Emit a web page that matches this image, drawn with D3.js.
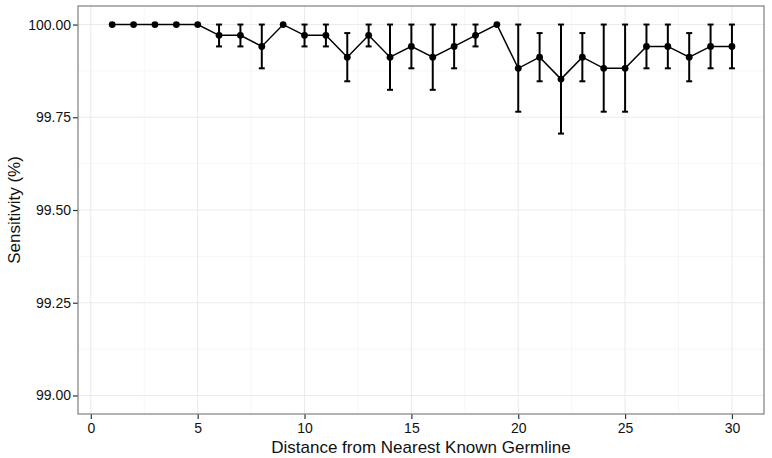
<!DOCTYPE html>
<html>
<head>
<meta charset="utf-8">
<script src="https://cdn.jsdelivr.net/npm/d3@7"></script>
<style>
  body { margin: 0; background: #fff; }
  text { font-family: "Liberation Sans", Arial, sans-serif; }
</style>
</head>
<body>
<div id="chart"></div>
<script>
// Data
var distance = [1, 2, 3, 4, 5, 6, 7, 8, 9, 10, 11, 12, 13, 14, 15,
    16, 17, 18, 19, 20, 21, 22, 23, 24, 25, 26, 27, 28, 29, 30];
var sensitivity = [100, 100, 100, 100, 100, 99.971, 99.971, 99.941, 100, 99.971, 99.971, 99.912, 99.971, 99.912, 99.941,
    99.912, 99.941, 99.971, 100, 99.882, 99.912, 99.853, 99.912, 99.882, 99.882, 99.941, 99.941, 99.912, 99.941, 99.941];
var lower = [100, 100, 100, 100, 100, 99.941, 99.941, 99.882, 100, 99.941, 99.941, 99.847, 99.941, 99.824, 99.882,
    99.824, 99.882, 99.941, 100, 99.765, 99.847, 99.706, 99.847, 99.765, 99.765, 99.882, 99.882, 99.847, 99.882, 99.882];
var upper = [100, 100, 100, 100, 100, 100, 100, 100, 100, 100, 100, 99.977, 100, 100, 100,
    100, 100, 100, 100, 100, 99.977, 100, 99.977, 100, 100, 100, 100, 99.977, 100, 100];
var xTicks = [0, 5, 10, 15, 20, 25, 30];
var yTicks = [99.00, 99.25, 99.50, 99.75, 100.00];

var W = 772, H = 458;
var panel = {left: 78, right: 764, top: 6, bottom: 414};

var svg = d3.select("#chart").append("svg")
    .attr("width", W)
    .attr("height", H);

// Scales (ggplot-style 5% expansion)
var xScale = d3.scaleLinear().domain([-0.6, 31.5]).range([panel.left, panel.right]);
var yScale = d3.scaleLinear().domain([98.95, 100.05]).range([panel.bottom, panel.top]);

var data = distance.map(function(d, i) {
    return {x: d, y: sensitivity[i], lo: lower[i], hi: upper[i]};
});

// Grid lines
var grid = svg.append("g").attr("class", "grid");
var xMinor = [2.5, 7.5, 12.5, 17.5, 22.5, 27.5];
var yMinor = [99.125, 99.375, 99.625, 99.875];

grid.selectAll(".xminor").data(xMinor).enter().append("line")
    .attr("x1", function(d) { return xScale(d); })
    .attr("x2", function(d) { return xScale(d); })
    .attr("y1", panel.top).attr("y2", panel.bottom)
    .attr("stroke", "#f4f4f4").attr("stroke-width", 0.8);
grid.selectAll(".yminor").data(yMinor).enter().append("line")
    .attr("y1", function(d) { return yScale(d); })
    .attr("y2", function(d) { return yScale(d); })
    .attr("x1", panel.left).attr("x2", panel.right)
    .attr("stroke", "#f4f4f4").attr("stroke-width", 0.8);
grid.selectAll(".xmajor").data(xTicks).enter().append("line")
    .attr("x1", function(d) { return xScale(d); })
    .attr("x2", function(d) { return xScale(d); })
    .attr("y1", panel.top).attr("y2", panel.bottom)
    .attr("stroke", "#ebebeb").attr("stroke-width", 1.1);
grid.selectAll(".ymajor").data(yTicks).enter().append("line")
    .attr("y1", function(d) { return yScale(d); })
    .attr("y2", function(d) { return yScale(d); })
    .attr("x1", panel.left).attr("x2", panel.right)
    .attr("stroke", "#ebebeb").attr("stroke-width", 1.1);

// Axes
var xAxis = d3.axisBottom(xScale).tickValues(xTicks).tickSize(5).tickPadding(4)
    .tickFormat(d3.format("d"));
var yAxis = d3.axisLeft(yScale).tickValues(yTicks).tickSize(5).tickPadding(2)
    .tickFormat(d3.format(".2f"));

var gx = svg.append("g")
    .attr("transform", "translate(0," + panel.bottom + ")")
    .call(xAxis);
var gy = svg.append("g")
    .attr("transform", "translate(" + panel.left + ",0)")
    .call(yAxis);

[gx, gy].forEach(function(g) {
    g.select(".domain").remove();
    g.selectAll(".tick line").attr("stroke", "#333").attr("stroke-width", 1.2);
    g.selectAll(".tick text").attr("fill", "#111").style("font-size", "14px");
});

// Panel border
svg.append("rect")
    .attr("x", panel.left).attr("y", panel.top)
    .attr("width", panel.right - panel.left)
    .attr("height", panel.bottom - panel.top)
    .attr("fill", "none")
    .attr("stroke", "#7f7f7f")
    .attr("stroke-width", 1.2);

// Axis titles
svg.append("text")
    .attr("x", (panel.left + panel.right) / 2)
    .attr("y", 453)
    .attr("text-anchor", "middle")
    .style("font-size", "17px")
    .attr("fill", "#111")
    .text("Distance from Nearest Known Germline");

svg.append("text")
    .attr("transform", "translate(20," + ((panel.top + panel.bottom) / 2) + ")rotate(-90)")
    .attr("text-anchor", "middle")
    .style("font-size", "17px")
    .attr("fill", "#111")
    .text("Sensitivity (%)");

// Error bars
var capHalf = 0.14;
var bars = svg.append("g").attr("class", "errorbars");
var withBar = data.filter(function(d) { return d.hi - d.lo > 0.001; });

bars.selectAll(".stem").data(withBar).enter().append("line")
    .attr("x1", function(d) { return xScale(d.x); })
    .attr("x2", function(d) { return xScale(d.x); })
    .attr("y1", function(d) { return yScale(d.lo); })
    .attr("y2", function(d) { return yScale(d.hi); })
    .attr("stroke", "#000").attr("stroke-width", 2);
bars.selectAll(".capLo").data(withBar).enter().append("line")
    .attr("x1", function(d) { return xScale(d.x - capHalf); })
    .attr("x2", function(d) { return xScale(d.x + capHalf); })
    .attr("y1", function(d) { return yScale(d.lo); })
    .attr("y2", function(d) { return yScale(d.lo); })
    .attr("stroke", "#000").attr("stroke-width", 2);
bars.selectAll(".capHi").data(withBar).enter().append("line")
    .attr("x1", function(d) { return xScale(d.x - capHalf); })
    .attr("x2", function(d) { return xScale(d.x + capHalf); })
    .attr("y1", function(d) { return yScale(d.hi); })
    .attr("y2", function(d) { return yScale(d.hi); })
    .attr("stroke", "#000").attr("stroke-width", 2);

// Line
svg.append("path")
    .datum(data)
    .attr("fill", "none")
    .attr("stroke", "#000")
    .attr("stroke-width", 1.5)
    .attr("d", d3.line()
        .x(function(d) { return xScale(d.x); })
        .y(function(d) { return yScale(d.y); }));

// Points
svg.append("g").selectAll("circle")
    .data(data)
    .enter()
    .append("circle")
    .attr("cx", function(d) { return xScale(d.x); })
    .attr("cy", function(d) { return yScale(d.y); })
    .attr("r", 3.4)
    .attr("fill", "#000");
</script>
</body>
</html>
